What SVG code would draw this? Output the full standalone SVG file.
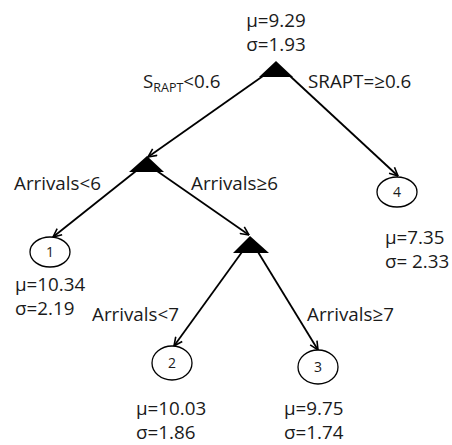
<svg xmlns="http://www.w3.org/2000/svg" width="452" height="445" viewBox="0 0 452 445">
<defs>
<marker id="arr" viewBox="0 0 10 10" refX="9.5" refY="5" markerWidth="10" markerHeight="10" markerUnits="userSpaceOnUse" orient="auto">
<path d="M1,1 L9.5,5 L1,9" fill="none" stroke="#000" stroke-width="1.6"/>
</marker>
</defs>
<style>
text{font-family:"Open Sans","Liberation Sans",sans-serif;font-size:18.8px;fill:#1a1a1a}
.num{font-size:14px;text-anchor:middle}
.sub{font-size:12.5px}
.split{fill:#000}
.leaf{fill:#fff;stroke:#000;stroke-width:1.3}
.edge{stroke:#000;stroke-width:1.8;fill:none;marker-end:url(#arr)}
</style>
<rect width="452" height="445" fill="#fff"/>
<g id="connectors">
<line class="edge" x1="263" y1="76" x2="148" y2="157"/>
<line class="edge" x1="290" y1="76" x2="398" y2="176"/>
<line class="edge" x1="136" y1="171" x2="53" y2="237"/>
<line class="edge" x1="157" y1="171" x2="249" y2="235"/>
<line class="edge" x1="242" y1="252" x2="174" y2="346"/>
<line class="edge" x1="258" y1="252" x2="318" y2="350"/>
</g>
<g id="root">
<polygon class="split" points="276,61 259,77 293,77"/>
<text x="276" y="27" text-anchor="middle">μ=9.29</text>
<text x="276" y="51" text-anchor="middle">σ=1.93</text>
</g>
<g id="split-left">
<polygon class="split" points="147,156 129,172 164,172"/>
</g>
<g id="split-mid">
<polygon class="split" points="250,236 233,253 269,253"/>
</g>
<g id="leaf1">
<ellipse class="leaf" cx="50" cy="252" rx="20" ry="15"/>
<text class="num" x="50" y="257">1</text>
<text x="15" y="291">μ=10.34</text>
<text x="15" y="315">σ=2.19</text>
</g>
<g id="leaf2">
<ellipse class="leaf" cx="172" cy="363" rx="20" ry="17"/>
<text class="num" x="172" y="368">2</text>
<text x="136" y="415">μ=10.03</text>
<text x="136" y="439">σ=1.86</text>
</g>
<g id="leaf3">
<ellipse class="leaf" cx="318" cy="367" rx="20" ry="17"/>
<text class="num" x="318" y="372">3</text>
<text x="284" y="415">μ=9.75</text>
<text x="284" y="439">σ=1.74</text>
</g>
<g id="leaf4">
<ellipse class="leaf" cx="397" cy="192" rx="20" ry="15"/>
<text class="num" x="397" y="197">4</text>
<text x="385" y="244">μ=7.35</text>
<text x="385" y="268">σ= 2.33</text>
</g>
<g id="labels">
<text x="143" y="88">S<tspan class="sub" dy="4">RAPT</tspan><tspan dy="-4">&lt;0.6</tspan></text>
<text x="308" y="88">SRAPT=≥0.6</text>
<text x="14" y="190">Arrivals&lt;6</text>
<text x="191" y="190">Arrivals≥6</text>
<text x="92" y="321">Arrivals&lt;7</text>
<text x="307" y="321">Arrivals≥7</text>
</g>
</svg>
